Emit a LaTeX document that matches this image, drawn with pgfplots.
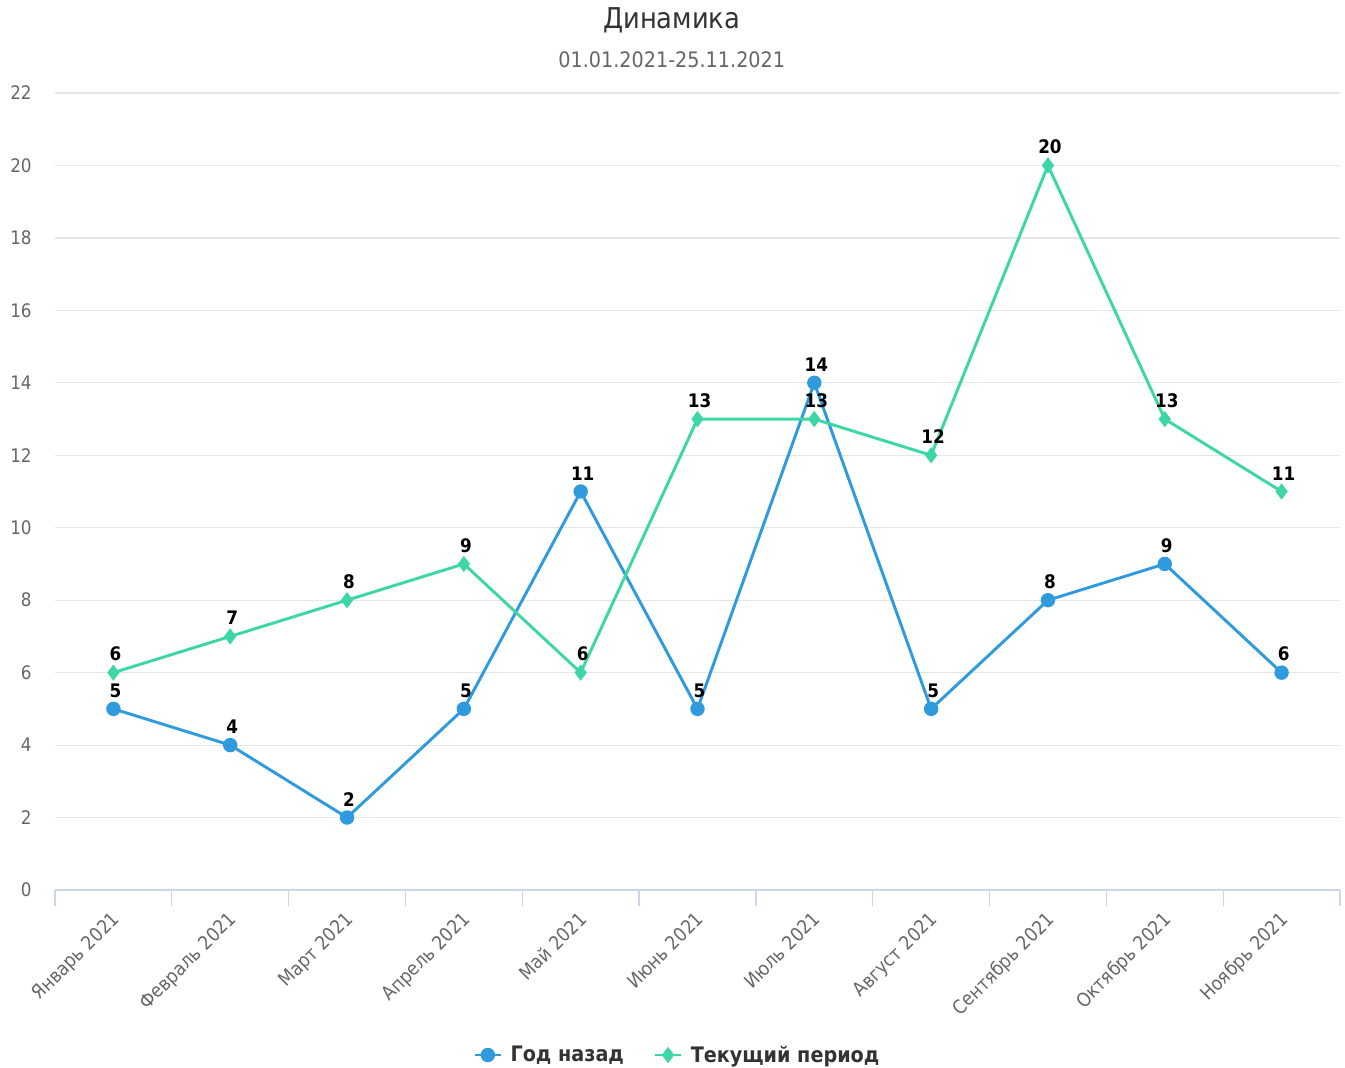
\documentclass[border=0pt]{standalone}
\usepackage{pgfplots}
\pgfplotsset{compat=1.18}
\usepackage{fontspec}
\setmainfont{DejaVu Sans Condensed}
\definecolor{cblue}{HTML}{2F9BDE}
\definecolor{cteal}{HTML}{3DD6A5}
\definecolor{gridc}{HTML}{E6E6E6}
\definecolor{axisc}{HTML}{CCD6EB}
\definecolor{labc}{HTML}{666666}
\definecolor{titc}{HTML}{333333}
\begin{document}
\begin{tikzpicture}
\begin{axis}[
  scale only axis,
  width=963.75pt, height=597.75pt,
  xmin=-0.5, xmax=10.5, ymin=0, ymax=22,
  axis x line*=bottom, axis y line*=left,
  x axis line style={draw=axisc, line width=1pt},
  y axis line style={draw=none},
  xtick={-0.5,0.5,...,10.5},
  xticklabels={},
  major x tick style={draw=axisc, line width=1pt},
  x tick style={draw=axisc, line width=1pt},
  xtick align=outside,
  major tick length=12pt,
  extra x ticks={0,...,10},
  extra x tick labels={Январь 2021,Февраль 2021,Март 2021,Апрель 2021,Май 2021,Июнь 2021,Июль 2021,Август 2021,Сентябрь 2021,Октябрь 2021,Ноябрь 2021},
  extra x tick style={major tick length=0pt, grid=none},
  xticklabel style={rotate=45, anchor=north east, font=\fontsize{14.3}{16}\selectfont, text=labc, xshift=-8.8pt, yshift=-5.7pt},
  ytick={0,2,...,22},
  ymajorgrids, grid style={draw=gridc, line width=0.9pt},
  y tick style={draw=none},
  yticklabel style={anchor=east, font=\fontsize{14}{16}\selectfont, text=labc, xshift=-14pt},
  /pgf/number format/assume math mode=true,
  clip=false,
  nodes near coords,
  every node near coord/.append style={font=\bfseries\fontsize{14}{16}\selectfont, text=black, inner sep=3pt, yshift=4.5pt, xshift=1.5pt},
  legend image code/.code={\draw[mark repeat=2,mark phase=2,#1] plot coordinates {(0cm,0cm) (0.35cm,0cm) (0.7cm,0cm)};},
  legend style={draw=none, fill=none, at={(axis description cs:0.4845,-0.207)}, anchor=center, legend columns=2, font=\bfseries\fontsize{16}{18}\selectfont, text=titc, /tikz/every odd column/.append style={column sep=4pt}, /tikz/every even column/.append style={column sep=20pt}},
  legend cell align=left,
]
\addplot[color=cblue, line width=2.2pt, mark=*, mark size=4.3pt, mark options={fill=cblue, draw=cblue}] coordinates {
(0,5) (1,4) (2,2) (3,5) (4,11) (5,5) (6,14) (7,5) (8,8) (9,9) (10,6)};
\addlegendentry{Год назад}
\addplot[color=cteal, line width=2.2pt, mark=diamond*, mark size=4.3pt, mark options={fill=cteal, draw=cteal}] coordinates {
(0,6) (1,7) (2,8) (3,9) (4,6) (5,13) (6,13) (7,12) (8,20) (9,13) (10,11)};
\addlegendentry{Текущий период}
\node[anchor=base, font=\fontsize{21.5}{24}\selectfont, text=titc] at (axis description cs:0.480,1.0815) {Динамика};
\node[anchor=base, font=\fontsize{16}{18}\selectfont, text=labc] at (axis description cs:0.480,1.0326) {01.01.2021-25.11.2021};
\coordinate (bl) at (axis description cs:-0.0428,-0.2221);
\coordinate (tr) at (axis description cs:1.00389,1.1167);
\end{axis}
\pgfresetboundingbox
\path (bl) rectangle (tr);
\end{tikzpicture}
\end{document}
